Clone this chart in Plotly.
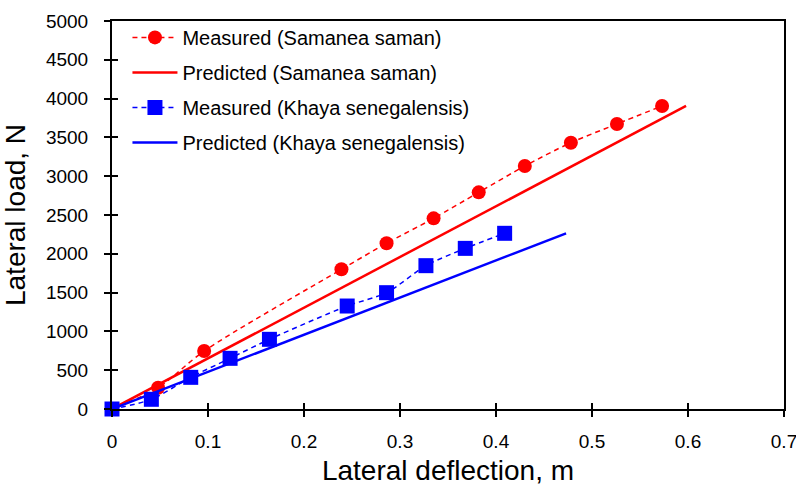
import plotly.graph_objects as go

# Measured load-deflection data
samanea_defl = [0.0, 0.048, 0.096, 0.239, 0.286, 0.335, 0.382, 0.430, 0.478, 0.526, 0.573]
samanea_load = [0, 274, 747, 1800, 2135, 2457, 2792, 3131, 3432, 3673, 3905]

khaya_defl = [0.0, 0.041, 0.082, 0.123, 0.164, 0.245, 0.286, 0.327, 0.368, 0.409]
khaya_load = [0, 125, 408, 653, 898, 1327, 1499, 1847, 2070, 2264]

# Predicted deflections at the measured load levels
samanea_pred_defl = [0.0, 0.042, 0.114, 0.276, 0.327, 0.376, 0.428, 0.479, 0.526, 0.562, 0.598]
khaya_pred_defl = [0.0, 0.026, 0.085, 0.136, 0.187, 0.277, 0.313, 0.386, 0.432, 0.473]

x_ticks = [0, 0.1, 0.2, 0.3, 0.4, 0.5, 0.6, 0.7]
y_ticks = [0, 500, 1000, 1500, 2000, 2500, 3000, 3500, 4000, 4500, 5000]

RED = "#FF0000"
BLUE = "#0000FF"
FONT = "Liberation Sans, Arial, sans-serif"

fig = go.Figure()

fig.add_trace(go.Scatter(
    x=samanea_defl, y=samanea_load, mode="lines+markers",
    name="Measured (Samanea saman)", legendgroup="a", cliponaxis=False,
    line=dict(color=RED, width=1.5, dash="5px,4px", shape="spline", smoothing=0.8),
    marker=dict(symbol="circle", size=14, color=RED),
))
fig.add_trace(go.Scatter(
    x=samanea_pred_defl, y=samanea_load, mode="lines",
    name="Predicted (Samanea saman)", legendgroup="b",
    line=dict(color=RED, width=2.5),
))
fig.add_trace(go.Scatter(
    x=khaya_defl, y=khaya_load, mode="lines+markers",
    name="Measured (Khaya senegalensis)", legendgroup="c", cliponaxis=False,
    line=dict(color=BLUE, width=1.5, dash="5px,4px", shape="spline", smoothing=0.8),
    marker=dict(symbol="square", size=15, color=BLUE),
))
fig.add_trace(go.Scatter(
    x=khaya_pred_defl, y=khaya_load, mode="lines",
    name="Predicted (Khaya senegalensis)", legendgroup="d",
    line=dict(color=BLUE, width=2.5),
))
# invisible trace on the overlay axes that carry the inner half of each tick
fig.add_trace(go.Scatter(x=[0], y=[0], xaxis="x2", yaxis="y2", mode="markers",
                         marker=dict(opacity=0), showlegend=False, hoverinfo="skip"))

axis_common = dict(showgrid=False, zeroline=False, linecolor="black", linewidth=2,
                   ticks="outside", ticklen=6, tickwidth=1.5, tickcolor="black",
                   tickfont=dict(family=FONT, size=19, color="black"),
                   mirror=True, automargin=False, ticklabeloverflow="allow")

inner_ticks = dict(ticks="inside", ticklen=6, tickwidth=1.5, tickcolor="black",
                   showticklabels=False, showgrid=False, zeroline=False,
                   showline=False, automargin=False)

fig.update_layout(
    width=796, height=486,
    margin=dict(l=112, r=12, t=21, b=77),
    paper_bgcolor="white", plot_bgcolor="white",
    font=dict(family=FONT, color="black"),
    showlegend=True,
    xaxis=dict(range=[0, 0.7], tickvals=x_ticks, ticktext=[f"{v:g}" for v in x_ticks],
               title=dict(text="Lateral deflection, m", font=dict(family=FONT, size=28),
                          standoff=14),
               ticklabelstandoff=8, **axis_common),
    yaxis=dict(range=[0, 5000], tickvals=y_ticks, ticktext=[str(v) for v in y_ticks],
               title=dict(text="Lateral load, N", font=dict(family=FONT, size=28),
                          standoff=12),
               ticklabelstandoff=12, **axis_common),
    xaxis2=dict(overlaying="x", anchor="y2", side="bottom", range=[0, 0.7],
                tickvals=x_ticks, **inner_ticks),
    yaxis2=dict(overlaying="y", anchor="x2", side="left", range=[0, 5000],
                tickvals=y_ticks, **inner_ticks),
    legend=dict(x=0.023, y=1.008, xanchor="left", yanchor="top",
                bgcolor="rgba(0,0,0,0)", borderwidth=0,
                font=dict(family=FONT, size=20, color="black"),
                traceorder="grouped", tracegroupgap=6, itemwidth=45),
)

fig.write_html("out.html")
